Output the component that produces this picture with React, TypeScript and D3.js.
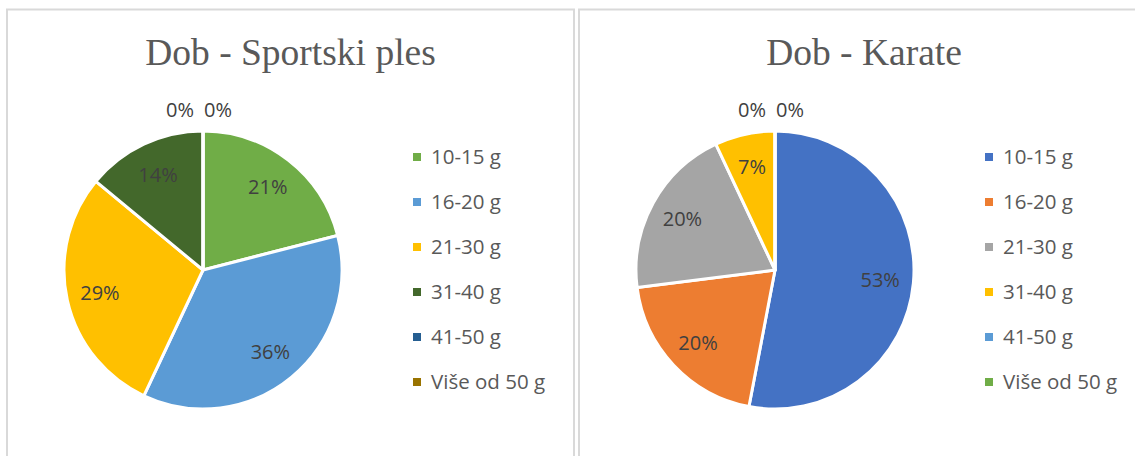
import * as d3 from 'd3'

// age groups shown in both legends
const categories = ['10-15 g', '16-20 g', '21-30 g', '31-40 g', '41-50 g', 'Više od 50 g']

// percentage per age group
const plesValues = [21, 36, 29, 14, 0, 0]
const karateValues = [53, 20, 20, 7, 0, 0]

const plesColors = ['#70AD47', '#5B9BD5', '#FFC000', '#43682B', '#255E91', '#997300']
const karateColors = ['#4472C4', '#ED7D31', '#A5A5A5', '#FFC000', '#5B9BD5', '#70AD47']

const W = 1135
const H = 456
const R = 139

interface PanelProps {
  x: number
  width: number
  title: string
  values: number[]
  colors: string[]
}

function PiePanel({ x, width, title, values, colors }: PanelProps) {
  const pie = d3.pie<number>().sort(null).value(d => d)
  const arcs = pie(values)
  const arc = d3.arc<d3.PieArcDatum<number>>().innerRadius(0).outerRadius(R)
  const labelArc = d3.arc<d3.PieArcDatum<number>>().innerRadius(R * 0.76).outerRadius(R * 0.76)
  const outerArc = d3.arc<d3.PieArcDatum<number>>().innerRadius(R + 22).outerRadius(R + 22)

  const cx = 196
  const cy = 270

  // zero slices sit outside the pie, side by side
  let zeroIdx = 0
  const zeroShift = [-23, 15]

  const legendY = d3.scalePoint<string>()
    .domain(categories)
    .range([157, 157 + 45 * (categories.length - 1)])

  return (
    <g transform={`translate(${x},0)`}>
      <rect x={0} y={9.5} width={width} height={H + 20} fill="#fff" stroke="#d9d9d9" strokeWidth={2} />
      <text
        x={width / 2}
        y={65}
        textAnchor="middle"
        fontFamily="'Liberation Serif', 'Times New Roman', serif"
        fontSize={37.5}
        fill="#595959"
      >
        {title}
      </text>

      <g transform={`translate(${cx},${cy})`}>
        {arcs.map((a, i) => (
          <path key={i} d={arc(a) || ''} fill={colors[i]} stroke="#fff" strokeWidth={3} strokeLinejoin="round" />
        ))}
        {arcs.map((a, i) => {
          let px: number, py: number
          if (a.data === 0) {
            const c = outerArc.centroid(a)
            px = c[0] + zeroShift[zeroIdx++]
            py = c[1] + 1
          } else {
            const c = labelArc.centroid(a)
            px = c[0]
            py = c[1]
          }
          return (
            <text
              key={'l' + i}
              x={px}
              y={py}
              dy="0.36em"
              textAnchor="middle"
              fontFamily="'Open Sans', sans-serif"
              fontSize={20}
              fill="#404040"
            >
              {a.data}%
            </text>
          )
        })}
      </g>

      <g>
        {categories.map((c, i) => (
          <g key={c} transform={`translate(406,${legendY(c)})`}>
            <rect x={0} y={-4} width={8} height={8} fill={colors[i]} />
            <text
              x={18}
              dy="0.36em"
              fontFamily="'Open Sans', sans-serif"
              fontSize={20.5}
              fill="#595959"
            >
              {c}
            </text>
          </g>
        ))}
      </g>
    </g>
  )
}

export default function App() {
  return (
    <svg width={W} height={H} style={{ position: 'absolute', left: 0, top: 0, background: '#fff' }}>
      <PiePanel x={7} width={567} title="Dob - Sportski ples" values={plesValues} colors={plesColors} />
      <PiePanel x={579} width={570} title="Dob - Karate" values={karateValues} colors={karateColors} />
    </svg>
  )
}
